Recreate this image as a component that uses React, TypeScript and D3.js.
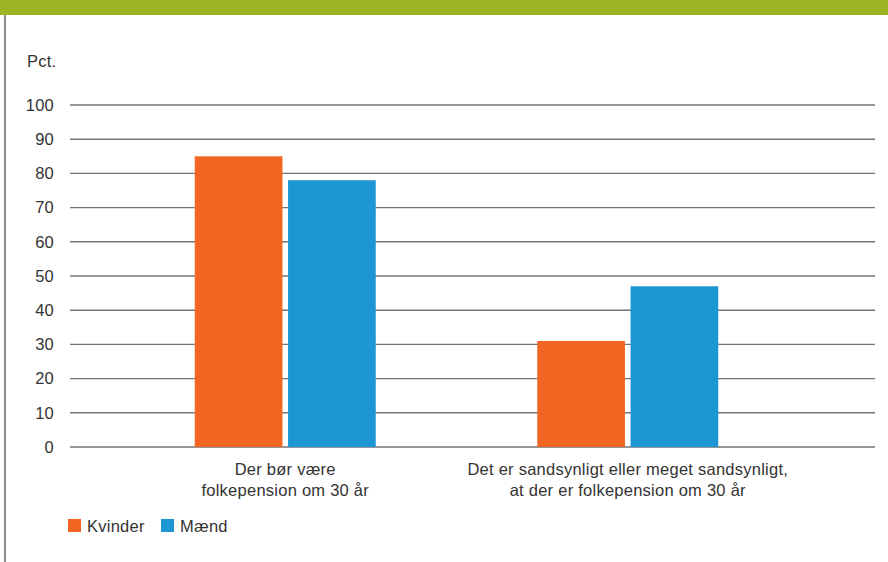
import React from 'react';
import { scaleLinear, scaleBand, range } from 'd3';

const categories = [
  ['Der bør være', 'folkepension om 30 år'],
  ['Det er sandsynligt eller meget sandsynligt,', 'at der er folkepension om 30 år'],
];
const seriesNames = ['Kvinder', 'Mænd'];
const kvinder = [85, 31];
const maend = [78, 47];
const yTicks = range(0, 101, 10);
const colors = ['#f26522', '#1d97d4'];

const W = 888;
const H = 562;
const font = '"Liberation Sans", Arial, sans-serif';
const fs = 16.5;

const App: React.FC = () => {
  const y = scaleLinear().domain([0, 100]).range([447, 105]);
  const x0 = scaleBand<number>().domain([0, 1]).range([114, 799]);
  const x1 = scaleBand<number>().domain([0, 1]).range([0, 181]).paddingInner(0.06);
  const values = [kvinder, maend];

  return (
    <svg
      width={W}
      height={H}
      style={{ position: 'absolute', left: 0, top: 0, background: '#fff' }}
      fontFamily={font}
      letterSpacing={0.25}
    >
      <rect x={0} y={0} width={W} height={15} fill="#9db324" />
      <line x1={5} x2={5} y1={15} y2={H} stroke="#8c8c8c" strokeWidth={2} />
      <text x={27} y={67} fontSize={fs} fill="#333">Pct.</text>

      {yTicks.map((t) => (
        <g key={t}>
          <line x1={70} x2={875} y1={y(t)} y2={y(t)} stroke="#747474" strokeWidth={1.4} />
          <text x={54} y={y(t)} dy="0.35em" textAnchor="end" fontSize={fs} fill="#333">
            {t}
          </text>
        </g>
      ))}

      {categories.map((c, ci) => {
        const gx = (x0(ci) || 0) + (x0.bandwidth() - 181) / 2;
        return (
          <g key={ci}>
            {values.map((s, si) => (
              <rect
                key={si}
                x={gx + (x1(si) || 0)}
                y={y(s[ci])}
                width={x1.bandwidth()}
                height={y(0) - y(s[ci])}
                fill={colors[si]}
              />
            ))}
            {c.map((line, li) => (
              <text
                key={li}
                x={gx + 90.5}
                y={475 + li * 21}
                textAnchor="middle"
                fontSize={fs}
                fill="#333"
              >
                {line}
              </text>
            ))}
          </g>
        );
      })}

      {seriesNames.map((n, i) => {
        const lx = i === 0 ? 68 : 161;
        return (
          <g key={n}>
            <rect x={lx} y={519} width={13} height={13} fill={colors[i]} />
            <text x={lx + 19} y={526} dy="0.35em" fontSize={fs} fill="#333">
              {n}
            </text>
          </g>
        );
      })}
    </svg>
  );
};

export default App;
